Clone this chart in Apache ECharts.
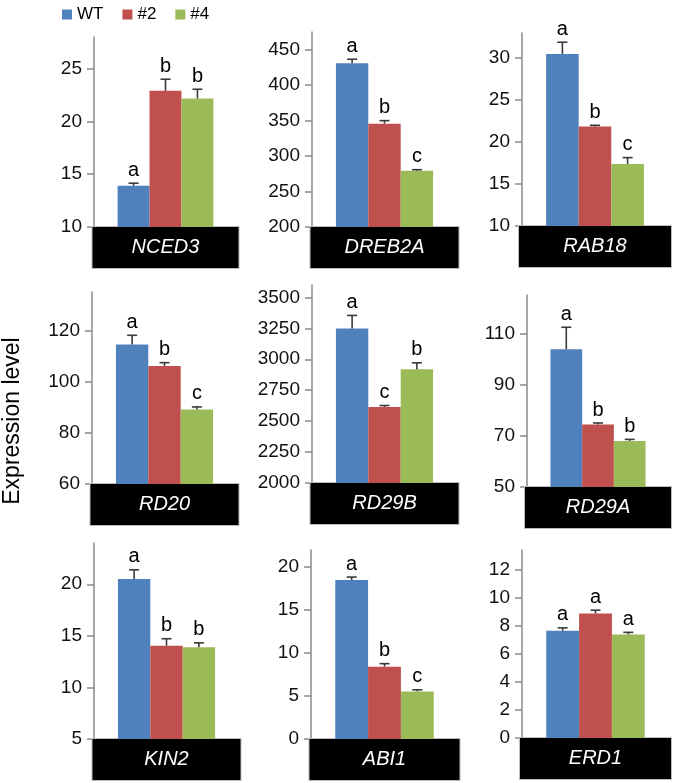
<!DOCTYPE html>
<html>
<head>
<meta charset="utf-8">
<script src="https://cdn.jsdelivr.net/npm/echarts@6/dist/echarts.min.js"></script>
<style>
html,body{margin:0;padding:0;background:#fff;}
#chart{width:675px;height:783px;}
</style>
</head>
<body>
<div id="chart"></div>
<script>
// ---- data ----
const genes = ['NCED3', 'DREB2A', 'RAB18', 'RD20', 'RD29B', 'RD29A', 'KIN2', 'ABI1', 'ERD1'];
const seriesNames = ['WT', '#2', '#4'];
const wtValues    = [13.9, 431, 30.5, 114.5, 3249, 103.8, 20.5, 18.5, 7.64];
const line2Values = [22.9, 345.6, 21.85, 106.1, 2615, 74.4, 14.05, 8.42, 8.87];
const line4Values = [22.17, 279.4, 17.4, 89.1, 2920, 68.0, 13.9, 5.54, 7.38];
const wtErrors    = [0.25, 5.6, 1.4, 3.6, 105, 8.6, 0.9, 0.35, 0.21];
const line2Errors = [1.1, 4.4, 0.15, 1.3, 11, 0.6, 0.67, 0.35, 0.24];
const line4Errors = [0.88, 1.4, 0.75, 1.0, 51, 0.6, 0.42, 0.19, 0.15];
const wtLetters    = ['a', 'a', 'a', 'a', 'a', 'a', 'a', 'a', 'a'];
const line2Letters = ['b', 'b', 'b', 'b', 'c', 'b', 'b', 'b', 'a'];
const line4Letters = ['b', 'c', 'c', 'c', 'b', 'b', 'b', 'c', 'a'];
const axisMin = [10, 200, 10, 60, 2000, 50, 5, 0, 0];
const axisMax = [28, 475, 33, 135, 3600, 125, 24, 22, 13.4];
const yTicks = [
  [10, 15, 20, 25],
  [200, 250, 300, 350, 400, 450],
  [10, 15, 20, 25, 30],
  [60, 80, 100, 120],
  [2000, 2250, 2500, 2750, 3000, 3250, 3500],
  [50, 70, 90, 110],
  [5, 10, 15, 20],
  [0, 5, 10, 15, 20],
  [0, 2, 4, 6, 8, 10, 12]
];
const yAxisTitle = 'Expression level';

// ---- layout / style ----
const gridBoxes = [
  {left: 94,  top: 37,  width: 143, height: 190},
  {left: 312, top: 32,  width: 145, height: 195},
  {left: 522, top: 33,  width: 149, height: 193},
  {left: 92,  top: 292, width: 145, height: 192},
  {left: 312, top: 285, width: 145, height: 198},
  {left: 527, top: 295, width: 143, height: 192},
  {left: 94,  top: 543, width: 145, height: 196},
  {left: 311, top: 550, width: 147, height: 189},
  {left: 522, top: 550, width: 148, height: 188}
];
const colors = ['#4F81BD', '#C0504D', '#9BBB59'];
const FONT = "'Liberation Sans', Arial, sans-serif";
const CAT_GAP = 0.33;

const valuesBySeries = [wtValues, line2Values, line4Values];
const errorsBySeries = [wtErrors, line2Errors, line4Errors];
const lettersBySeries = [wtLetters, line2Letters, line4Letters];

const grid = [], xAxis = [], yAxis = [], series = [];
genes.forEach((g, i) => {
  const b = gridBoxes[i];
  grid.push({left: b.left, top: b.top, width: b.width, height: b.height, containLabel: false});
  xAxis.push({
    type: 'category', gridIndex: i, data: [g],
    axisLine: {show: false}, axisTick: {show: false},
    axisLabel: {
      interval: 0, margin: 0, color: '#fff', fontStyle: 'italic', fontSize: 20, fontFamily: FONT,
      backgroundColor: '#000', borderColor: '#bbb', borderWidth: 1,
      width: b.width + 3, height: 41, lineHeight: 41, align: 'center', verticalAlign: 'top', padding: 0
    }
  });
  yAxis.push({
    type: 'value', gridIndex: i, min: axisMin[i], max: axisMax[i],
    axisLine: {show: true, lineStyle: {color: '#8a8a8a', width: 1.5}},
    axisTick: {show: true, inside: false, length: 7, customValues: yTicks[i], lineStyle: {color: '#8a8a8a', width: 1.5}},
    axisLabel: {customValues: yTicks[i], margin: 12, color: '#111', fontSize: 19, fontFamily: FONT,
      formatter: v => String(v)},
    splitLine: {show: false}
  });
  seriesNames.forEach((name, s) => {
    series.push({
      type: 'bar', name: name, xAxisIndex: i, yAxisIndex: i,
      barGap: '0%', barCategoryGap: (CAT_GAP * 100) + '%',
      itemStyle: {color: colors[s], borderColor: colors[s], borderWidth: 0},
      data: [valuesBySeries[s][i]],
      z: 2
    });
  });
  series.push({
    type: 'custom', name: 'err' + i, xAxisIndex: i, yAxisIndex: i, z: 5, clip: false,
    data: [0, 1, 2].map(s => [0, valuesBySeries[s][i], errorsBySeries[s][i], s]),
    renderItem: function (params, api) {
      const mean = api.value(1), err = api.value(2), s = api.value(3);
      const center = api.coord([0, mean]);
      const band = api.size([1, 0])[0];
      const total = band * (1 - CAT_GAP);
      const bw = total / 3;
      const cx = center[0] - total / 2 + bw * (s + 0.5);
      const base = center[1];
      const top = api.coord([0, mean + err])[1];
      const letter = lettersBySeries[s][i];
      const ls = {stroke: '#3a3a3a', lineWidth: 1.6};
      return {
        type: 'group',
        children: [
          {type: 'line', shape: {x1: cx, y1: base, x2: cx, y2: top}, style: ls},
          {type: 'line', shape: {x1: cx - 5, y1: top, x2: cx + 5, y2: top}, style: ls},
          {type: 'text', x: cx, y: top - 3, style: {text: letter, textAlign: 'center', textVerticalAlign: 'bottom', fontSize: 20, fontFamily: FONT, fill: '#000'}}
        ]
      };
    }
  });
});

const chart = echarts.init(document.getElementById('chart'), null, {renderer: 'canvas'});
chart.setOption({
  animation: false,
  backgroundColor: '#fff',
  legend: {
    data: seriesNames, top: 1, left: 57, icon: 'rect', itemWidth: 10, itemHeight: 10, itemGap: 19,
    textStyle: {fontSize: 17, fontFamily: FONT, color: '#000'}
  },
  graphic: [{
    type: 'text', x: 13, y: 421, rotation: Math.PI / 2,
    style: {text: yAxisTitle, textAlign: 'center', textVerticalAlign: 'middle', fontSize: 23, fontFamily: FONT, fill: '#000'}
  }],
  grid: grid, xAxis: xAxis, yAxis: yAxis, series: series
});
</script>
</body>
</html>
